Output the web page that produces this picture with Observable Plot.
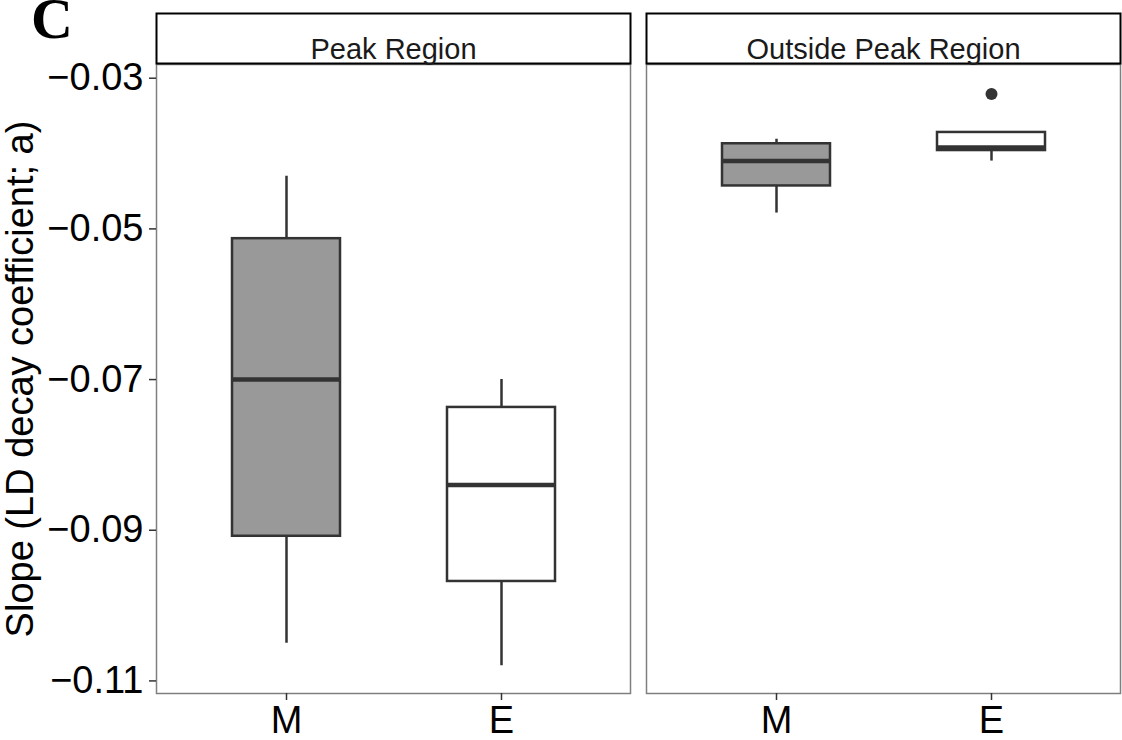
<!DOCTYPE html>
<html>
<head>
<meta charset="utf-8">
<script src="https://cdn.jsdelivr.net/npm/d3@7"></script>
<script src="https://cdn.jsdelivr.net/npm/@observablehq/plot@0.6"></script>
<style>
  body { margin: 0; background: #fff; }
  #wrap { position: relative; width: 1122px; height: 740px; }
  #tag {
    position: absolute; left: 31px; top: 0;
    font: bold 58px/38px "Liberation Serif", "Times New Roman", serif;
    color: #000; z-index: 2;
  }
</style>
</head>
<body>
<div id="wrap"><div id="tag">C</div></div>
<script>
// Facets and groups
const panels = ["Peak Region", "Outside Peak Region"];
const groups = ["M", "E"];

// Box summaries, one entry per panel × group:
// [Peak M, Peak E, Outside M, Outside E]
const whiskerLow  = [-0.1050, -0.1080, -0.0479, -0.0410];
const q1          = [-0.0908, -0.0968, -0.0443, -0.0396];
const median      = [-0.0700, -0.0840, -0.0410, -0.0392];
const q3          = [-0.0513, -0.0737, -0.0387, -0.0372];
const whiskerHigh = [-0.0430, -0.0700, -0.0381, -0.0372];

// Outlying points
const outlierPanel = ["Outside Peak Region"];
const outlierGroup = ["E"];
const outlierValue = [-0.0321];

// Axis ticks
const yTicks = [-0.11, -0.09, -0.07, -0.05, -0.03];
const yLabel = "Slope (LD decay coefficient; a)";

const fills = {M: "#999999", E: "#ffffff"};

const boxes = [];
panels.forEach((panel, i) => {
  groups.forEach((group, j) => {
    const k = i * groups.length + j;
    boxes.push({
      panel, group,
      lo: whiskerLow[k], q1: q1[k], med: median[k], q3: q3[k], hi: whiskerHigh[k]
    });
  });
});
const outliers = outlierValue.map((v, i) => ({panel: outlierPanel[i], group: outlierGroup[i], value: v}));

const fmt = d3.format(".2f");

const chart = Plot.plot({
  width: 1122,
  height: 740,
  marginLeft: 156,
  marginRight: 1,
  marginTop: 64,
  marginBottom: 47,
  style: {
    fontFamily: '"Liberation Sans", Arial, sans-serif',
    fontSize: "38px",
    color: "#000",
    background: "#fff"
  },
  fx: {domain: panels, paddingInner: 0.0326, paddingOuter: 0, axis: null, label: null},
  x: {domain: groups, paddingInner: 0.5, paddingOuter: 0.35, label: null, axis: null},
  y: {domain: [-0.11167, -0.02818], axis: null},
  color: {type: "identity"},
  marks: [
    // whiskers
    Plot.ruleX(boxes, {fx: "panel", x: "group", y1: "lo", y2: "hi", stroke: "#333333", strokeWidth: 2.5}),
    // interquartile boxes
    Plot.barY(boxes, {fx: "panel", x: "group", y1: "q1", y2: "q3", fill: d => fills[d.group], stroke: "#333333", strokeWidth: 2.5}),
    // medians
    Plot.tickY(boxes, {fx: "panel", x: "group", y: "med", stroke: "#333333", strokeWidth: 4.5}),
    // outliers
    Plot.dot(outliers, {fx: "panel", x: "group", y: "value", r: 6, fill: "#333333", stroke: "none"}),
    // panel border
    Plot.frame({stroke: "#7f7f7f", strokeWidth: 1.5}),
    // facet strips
    Plot.frame({stroke: "#000", strokeWidth: 2, fill: "#fff", insetTop: -51, insetBottom: 630}),
    Plot.text(panels, {fx: d => d, text: d => d, frameAnchor: "top", dy: -26, fontSize: 29, fill: "#1a1a1a"}),
    // axes
    Plot.axisY(yTicks, {
      tickSize: 7, tickPadding: 6, stroke: "#333333", strokeWidth: 1.5, tickFormat: fmt,
      label: yLabel, labelAnchor: "center", labelArrow: "none", labelOffset: 150
    }),
    Plot.axisX({tickSize: 7, tickPadding: 6, stroke: "#333333", strokeWidth: 1.5, label: null})
  ]
});

document.getElementById("wrap").appendChild(chart);
</script>
</body>
</html>
